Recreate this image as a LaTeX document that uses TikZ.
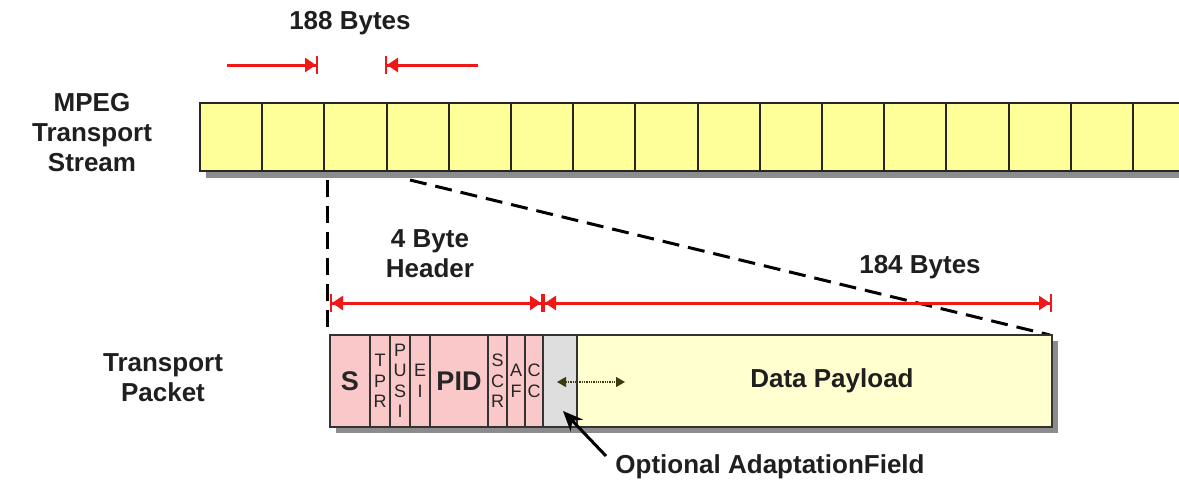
\documentclass[tikz,border=0pt]{standalone}
\usepackage{fontspec}
\setmainfont{Liberation Sans}
\usetikzlibrary{arrows.meta}

\definecolor{cellyellow}{RGB}{255,255,153}
\definecolor{hdrpink}{RGB}{250,200,200}
\definecolor{afgray}{RGB}{222,222,222}
\definecolor{payyellow}{RGB}{255,255,208}
\definecolor{dimred}{RGB}{238,24,24}
\definecolor{olivetip}{RGB}{60,60,20}
\definecolor{shadowgray}{RGB}{140,140,140}

\newcommand\bigfield[1]{{\fontsize{27}{30}\selectfont\bfseries #1}}

\begin{document}
\begin{tikzpicture}[x=1pt,y=-1pt,
  lbl/.style={font=\fontsize{26}{30}\selectfont\bfseries,align=center,text=black!88},
  cell/.style={draw=black!85,line width=2pt,fill=cellyellow,minimum width=62.2pt,minimum height=68pt,inner sep=0pt},
  field/.style={draw=black!80,line width=1.6pt,fill=hdrpink,minimum height=92pt,inner sep=0pt,
    font=\fontsize{18}{20.5}\selectfont,align=center,text=black!85},
  dimline/.style={dimred,line width=3pt},
  dimtips/.style={arrows={Bar[width=18pt,line width=2pt]Triangle[length=11pt,width=14pt]-Triangle[length=11pt,width=14pt]Bar[width=18pt,line width=2pt]}}
]
\useasboundingbox (0,0) rectangle (1179,482);

% transport stream
\fill[shadowgray] (206,109) rectangle (1200,178);
\foreach \i in {0,...,16}
  \node[cell] (c\i) at ({231.1+62.2*\i},137) {};

\node[lbl] (mpeg) at (92,133) {MPEG\\Transport\\Stream};
\node[lbl] (b188) at (350,23) {188 Bytes};

\coordinate (p0) at (227,65);
\coordinate (p1) at (318,65);
\coordinate (p2) at (385,65);
\coordinate (p3) at (478,65);
\draw[dimline,-{Triangle[length=11pt,width=14pt]Bar[width=18pt,line width=2pt]}] (p0) -- (p1);
\draw[dimline,{Bar[width=18pt,line width=2pt]Triangle[length=11pt,width=14pt]}-] (p2) -- (p3);

% zoom lines
\coordinate (d0) at (327,180);
\coordinate (d1) at (327,333);
\coordinate (d2) at (410,180);
\coordinate (d3) at (1050,335);
\draw[line width=3pt,dash pattern=on 17pt off 9pt] (d0) -- (d1);
\draw[line width=3pt,dash pattern=on 17pt off 9pt] (d2) -- (d3);

% transport packet
\fill[shadowgray] (336,341) rectangle (1058,433);
\foreach \a/\b/\txt/\nm in {330/370/{\bigfield{S}}/s, 370/390/{T\\P\\R}/tpr,
    390/410/{P\\U\\S\\I}/pusi, 410/430/{E\\I}/ei, 430/488/{\bigfield{PID}}/pid,
    488/507/{S\\C\\R}/scr, 507/525/{A\\F}/af, 525/543/{C\\C}/cc}
  \node[field,minimum width={(\b-\a)*1pt}] (\nm) at ({(\a+\b)/2},381) {\txt};
\node[field,fill=afgray,minimum width=34pt] (adapt) at (560,381) {};
\node[field,fill=payyellow,minimum width=475pt] (pay) at (814.5,381) {};
\node[lbl] (paytxt) at (832,381) {Data Payload};

\node[lbl] (tp) at (163,378) {Transport\\Packet};
\node[lbl] (hdr) at (430,254) {4 Byte\\Header};
\node[lbl] (b184) at (920,267) {184 Bytes};

\coordinate (h0) at (330,303);
\coordinate (h1) at (543,303);
\coordinate (h2) at (1052,303);
\draw[dimline,dimtips] (h0) -- (h1);
\draw[dimline,dimtips] (h1) -- (h2);

\coordinate (o0) at (557,382);
\coordinate (o1) at (625,382);
\draw[olivetip,line width=1.3pt,densely dotted,{Triangle[length=9pt,width=10pt]}-{Triangle[length=9pt,width=10pt]}] (o0) -- (o1);

\node[lbl] (opt) at (770,467) {Optional AdaptationField};
\coordinate (optpt) at (606,456);
\coordinate (afpt) at (563,411);
\draw[line width=3pt,-{Stealth[length=20pt,width=17pt]}] (optpt) -- (afpt);

\end{tikzpicture}
\end{document}
